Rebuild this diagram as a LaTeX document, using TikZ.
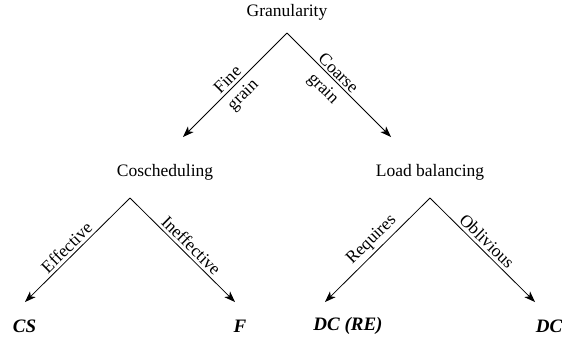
\documentclass[tikz,border=0pt]{standalone}
\usepackage{fontspec}
\setmainfont{Liberation Serif}
\usetikzlibrary{arrows.meta}
\begin{document}
\begin{tikzpicture}[x=1pt,y=-1pt,
  lab/.style={font=\fontsize{17.5}{19}\selectfont, inner sep=1pt},
  leaf/.style={font=\fontsize{19}{21}\selectfont\bfseries\itshape, inner sep=0pt},
  edgelab/.style={font=\fontsize{17.5}{17}\selectfont, sloped, inner sep=3pt},
  twolab/.style={font=\fontsize{17.5}{21}\selectfont, sloped, align=center, inner sep=0pt},
  arr/.style={line width=0.8pt, -{Stealth[length=11pt,width=8pt,inset=3pt]}}]
\useasboundingbox (0,0) rectangle (562,341);
\node[lab] (gran) at (287,12) {Granularity};
\node[lab] (cos) at (165,172) {Coscheduling};
\node[lab] (lb) at (430,172) {Load balancing};
\node[leaf] (cs) at (24.5,326) {CS};
\node[leaf] (f) at (240,326) {F};
\node[leaf] (dcre) at (348,326) {DC (RE)};
\node[leaf] (dc) at (549,326) {DC};
\coordinate (a0) at (287,33);
\coordinate (t0l) at (183,137);
\coordinate (t0r) at (391,137);
\coordinate (a1) at (130,198);
\coordinate (t1l) at (25,302);
\coordinate (t1r) at (235,302);
\coordinate (a2) at (430,198);
\coordinate (t2l) at (325,302);
\coordinate (t2r) at (535,302);
\draw[arr] (a0) -- node[twolab, pos=0.51, yshift=-3pt] {Fine\\grain} (t0l);
\draw[arr] (a0) -- node[twolab, pos=0.44, yshift=-4pt] {Coarse\\grain} (t0r);
\draw[arr] (a1) -- node[edgelab, above, pos=0.54] {Effective} (t1l);
\draw[arr] (a1) -- node[edgelab, above, pos=0.52] {Ineffective} (t1r);
\draw[arr] (a2) -- node[edgelab, above, pos=0.48] {Requires} (t2l);
\draw[arr] (a2) -- node[edgelab, above, pos=0.48] {Oblivious} (t2r);
\end{tikzpicture}
\end{document}
